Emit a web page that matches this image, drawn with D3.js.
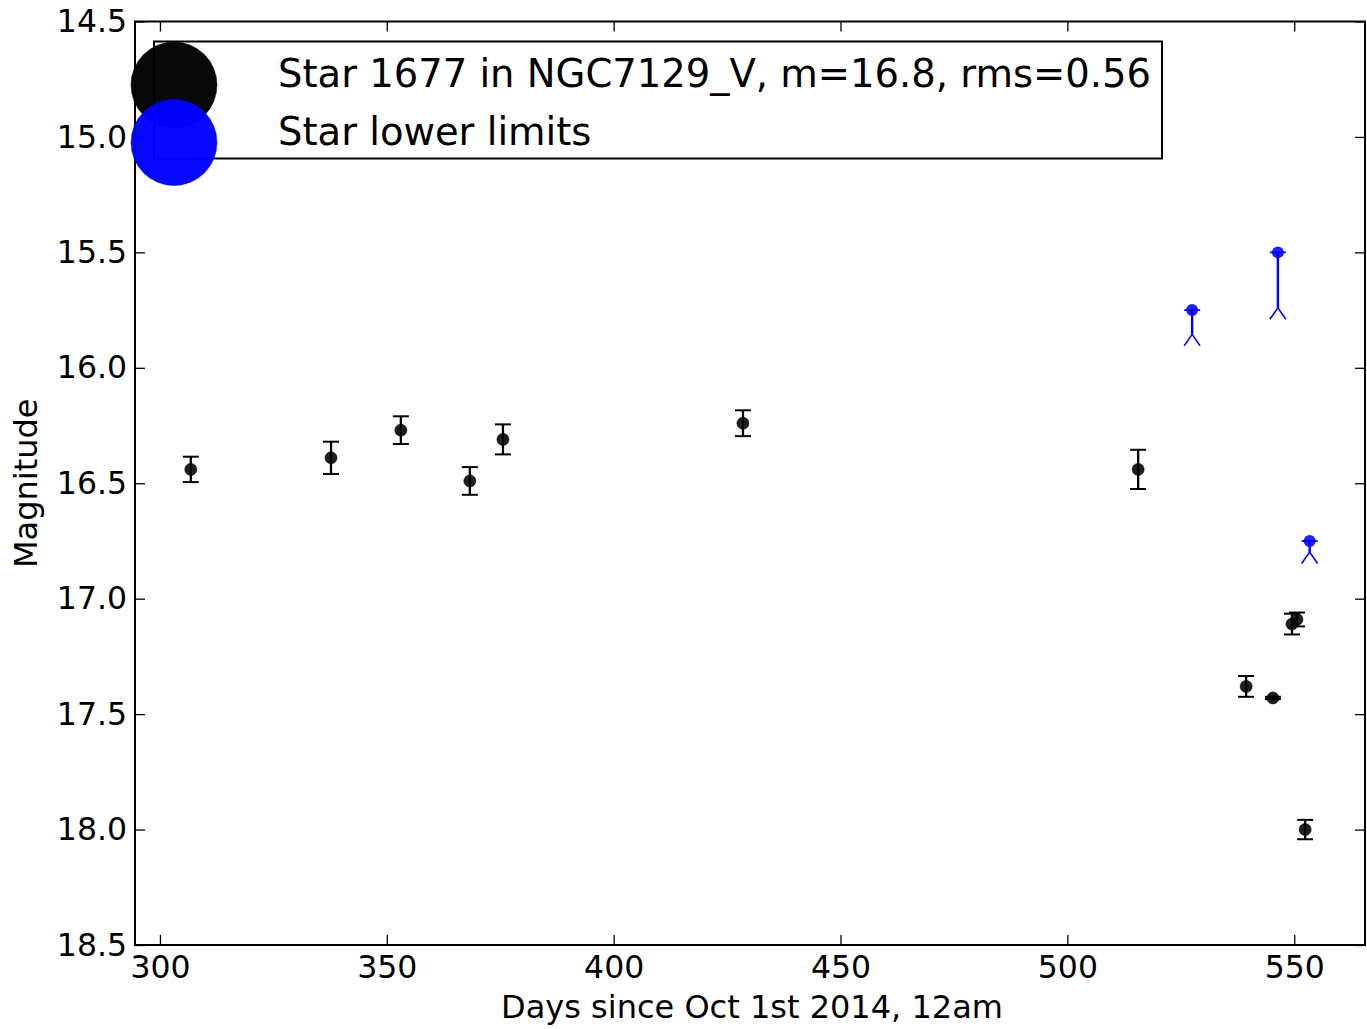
<!DOCTYPE html>
<html>
<head>
<meta charset="UTF-8">
<script src="https://d3js.org/d3.v7.min.js"></script>
<style>
  body { margin: 0; background: #fff; }
  text { font-family: "DejaVu Sans", sans-serif; fill: #000; }
</style>
</head>
<body>
<script>
// measured points: days, magnitude, error
const days = [306.8, 337.7, 353.1, 368.3, 375.6, 428.5, 515.6, 539.4, 545.3, 549.5, 550.6, 552.4];
const mags = [16.44, 16.39, 16.27, 16.49, 16.31, 16.24, 16.44, 17.38, 17.43, 17.11, 17.09, 18.00];
const errs = [0.055, 0.07, 0.06, 0.06, 0.065, 0.056, 0.085, 0.045, 0.005, 0.045, 0.03, 0.042];

// lower limits (blue)
const limDays = [527.5, 546.4, 553.4];
const limMags = [15.75, 15.50, 16.75];
const limLens = [0.105, 0.24, 0.048];

const xTicks = [300, 350, 400, 450, 500, 550];
const yTicks = [14.5, 15.0, 15.5, 16.0, 16.5, 17.0, 17.5, 18.0, 18.5];
const legendLabels = ["Star 1677 in NGC7129_V, m=16.8, rms=0.56", "Star lower limits"];

const W = 1367, H = 1029;
const L = 135, R = 1365, T = 21.5, B = 945;

const svg = d3.select("body").append("svg")
  .attr("width", W).attr("height", H);

const x = d3.scaleLinear().domain([294.5, 565.6]).range([L, R]);
const y = d3.scaleLinear().domain([14.5, 18.5]).range([T, B]);

// axes (ticks point inward)
function styleAxis(g) {
  g.select(".domain").remove();
  g.selectAll(".tick line").attr("stroke", "#000").attr("stroke-width", 1.3);
  g.selectAll(".tick text").style("font-size", "31.5px").attr("fill", "#000");
}
svg.append("g").attr("transform", "translate(0," + B + ")")
  .call(d3.axisBottom(x).tickValues(xTicks).tickFormat(d3.format("d")).tickSize(-10).tickSizeOuter(0).tickPadding(11))
  .call(styleAxis);
svg.append("g").attr("transform", "translate(0," + T + ")")
  .call(d3.axisTop(x).tickValues(xTicks).tickFormat("").tickSize(-10).tickSizeOuter(0))
  .call(styleAxis);
svg.append("g").attr("transform", "translate(" + L + ",0)")
  .call(d3.axisLeft(y).tickValues(yTicks).tickFormat(d3.format(".1f")).tickSize(-10).tickSizeOuter(0).tickPadding(8))
  .call(styleAxis);
svg.append("g").attr("transform", "translate(" + R + ",0)")
  .call(d3.axisRight(y).tickValues(yTicks).tickFormat("").tickSize(-10).tickSizeOuter(0))
  .call(styleAxis);

// frame
svg.append("rect").attr("x", L).attr("y", T).attr("width", R - L).attr("height", B - T)
  .attr("fill", "none").attr("stroke", "#000").attr("stroke-width", 2);

// black points with error bars
const pts = svg.append("g");
days.forEach((d, i) => {
  const cx = x(d), y0 = y(mags[i] - errs[i]), y1 = y(mags[i] + errs[i]);
  pts.append("line").attr("x1", cx).attr("x2", cx).attr("y1", y0).attr("y2", y1)
    .attr("stroke", "#000").attr("stroke-width", 2.3);
  [y0, y1].forEach(cy => pts.append("line").attr("x1", cx - 8).attr("x2", cx + 8)
    .attr("y1", cy).attr("y2", cy).attr("stroke", "#000").attr("stroke-width", 2));
  pts.append("circle").attr("cx", cx).attr("cy", y(mags[i])).attr("r", 6)
    .attr("fill", "#000").attr("fill-opacity", 0.88).attr("stroke", "#000").attr("stroke-opacity", 0.6);
});

// blue lower limits with arrows
const lim = svg.append("g");
limDays.forEach((d, i) => {
  const cx = x(d), cy = y(limMags[i]), ey = y(limMags[i] + limLens[i]);
  lim.append("line").attr("x1", cx).attr("x2", cx).attr("y1", cy).attr("y2", ey)
    .attr("stroke", "#0000ff").attr("stroke-width", 2.4);
  lim.append("line").attr("x1", cx - 8).attr("x2", cx + 8).attr("y1", cy).attr("y2", cy)
    .attr("stroke", "#0000ff").attr("stroke-width", 1.8);
  lim.append("path")
    .attr("d", `M${cx - 8},${ey + 11.5}L${cx},${ey}L${cx + 8},${ey + 11.5}`)
    .attr("fill", "none").attr("stroke", "#0000ff").attr("stroke-width", 1.6);
  lim.append("circle").attr("cx", cx).attr("cy", cy).attr("r", 6)
    .attr("fill", "#0000ff").attr("fill-opacity", 0.88);
});

// legend
const lg = svg.append("g");
lg.append("rect").attr("x", 154).attr("y", 41.5).attr("width", 1008).attr("height", 117)
  .attr("fill", "#fff").attr("stroke", "#000").attr("stroke-width", 2);
const legColors = ["#000", "#0000ff"];
legendLabels.forEach((t, i) => {
  const cy = 85 + i * 57.5;
  lg.append("circle").attr("cx", 174).attr("cy", cy).attr("r", 43)
    .attr("fill", legColors[i]).attr("fill-opacity", 0.97)
    .attr("stroke", legColors[i]).attr("stroke-opacity", 0.5);
  lg.append("text").attr("x", 278).attr("y", cy + 2).attr("text-anchor", "start")
    .style("font-size", "38.5px").text(t);
});

// axis titles
svg.append("text").attr("x", (L + R) / 2 + 2).attr("y", 1018).attr("text-anchor", "middle")
  .style("font-size", "32px").text("Days since Oct 1st 2014, 12am");
svg.append("text").attr("transform", "translate(37," + (T + B) / 2 + ") rotate(-90)")
  .attr("text-anchor", "middle").style("font-size", "32px").text("Magnitude");
</script>
</body>
</html>
